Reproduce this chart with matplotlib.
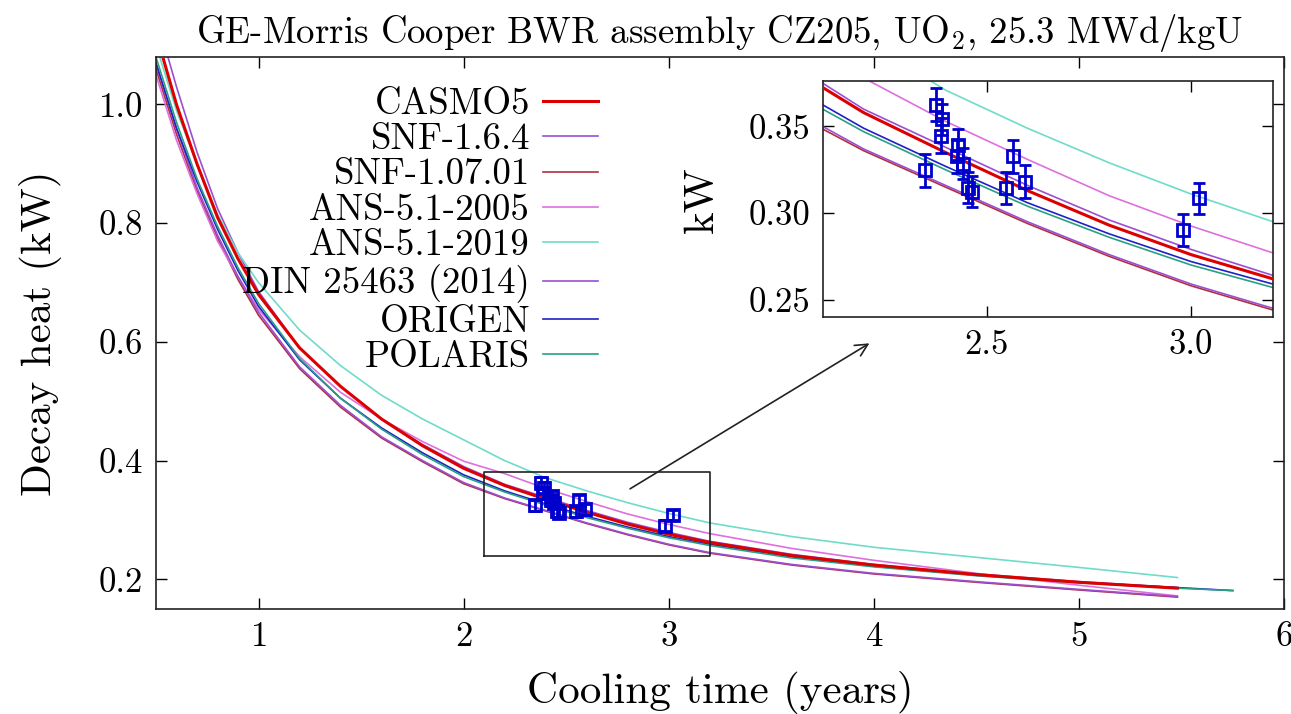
import matplotlib
matplotlib.use("Agg")
import matplotlib.pyplot as plt
import numpy as np

plt.rcParams['font.family'] = ['cmr10', 'DejaVu Serif']
plt.rcParams['mathtext.fontset'] = 'cm'
plt.rcParams['axes.formatter.use_mathtext'] = True

# ---- data ----
t = [0.5, 0.6, 0.7, 0.8, 0.9, 1.0, 1.2, 1.4, 1.6, 1.8, 2.0, 2.2, 2.4, 2.6, 2.8, 3.0, 3.2, 3.6, 4.0, 4.5, 5.0, 5.48]
t_long = t + [5.75]

casmo5 = [1.12, 1.00, 0.90, 0.81, 0.74, 0.68, 0.59, 0.525, 0.47, 0.425, 0.387, 0.358, 0.335, 0.313, 0.293, 0.276, 0.262, 0.240, 0.224, 0.208, 0.195, 0.185]
snf164 = [1.15, 1.03, 0.92, 0.825, 0.75, 0.685, 0.59, 0.525, 0.47, 0.427, 0.390, 0.360, 0.338, 0.316, 0.296, 0.279, 0.264, 0.242, 0.225, 0.209, 0.196, 0.186]
snf10701 = [1.06, 0.95, 0.855, 0.775, 0.705, 0.645, 0.555, 0.490, 0.438, 0.398, 0.361, 0.336, 0.315, 0.294, 0.275, 0.258, 0.2440, 0.224, 0.209, 0.195, 0.182, 0.170]
ans2005 = [1.05, 0.94, 0.85, 0.77, 0.71, 0.655, 0.575, 0.515, 0.470, 0.432, 0.399, 0.378, 0.353, 0.331, 0.310, 0.2925, 0.277, 0.252, 0.232, 0.210, 0.190, 0.172]
ans2019 = [1.10, 0.99, 0.90, 0.815, 0.75, 0.70, 0.62, 0.56, 0.51, 0.47, 0.435, 0.400, 0.371, 0.349, 0.329, 0.311, 0.295, 0.272, 0.254, 0.237, 0.220, 0.203]
din = [1.07, 0.96, 0.86, 0.78, 0.71, 0.650, 0.558, 0.493, 0.440, 0.400, 0.363, 0.337, 0.316, 0.295, 0.276, 0.259, 0.2450, 0.225, 0.210, 0.196, 0.183, 0.171]
origen = [1.07, 0.96, 0.87, 0.79, 0.72, 0.66, 0.57, 0.505, 0.455, 0.413, 0.376, 0.349, 0.327, 0.306, 0.288, 0.272, 0.259, 0.238, 0.222, 0.207, 0.195, 0.186, 0.181]
polaris = [1.08, 0.97, 0.875, 0.795, 0.725, 0.665, 0.572, 0.505, 0.453, 0.410, 0.373, 0.347, 0.325, 0.304, 0.286, 0.270, 0.257, 0.236, 0.221, 0.206, 0.194, 0.185, 0.181]

meas_t = [2.350, 2.377, 2.3925, 2.388, 2.431, 2.427, 2.443, 2.4556, 2.465, 2.5485, 2.565, 2.593, 2.981, 3.020]
meas_q = [0.3247, 0.3625, 0.3542, 0.3448, 0.3395, 0.3328, 0.3284, 0.3146, 0.3123, 0.3146, 0.3328, 0.3180, 0.2902, 0.3085]
meas_err = [0.0094, 0.0096, 0.0090, 0.0100, 0.0090, 0.0095, 0.0090, 0.0090, 0.0090, 0.0094, 0.0095, 0.0095, 0.0092, 0.0090]

labels = ["CASMO5", "SNF-1.6.4", "SNF-1.07.01", "ANS-5.1-2005", "ANS-5.1-2019",
          "DIN 25463 (2014)", "ORIGEN", "POLARIS"]
series = [casmo5, snf164, snf10701, ans2005, ans2019, din, origen, polaris]
colors = ["#dd0000", "#9b4fd0", "#b03040", "#dd70dd", "#6edcc8", "#9b4fd0", "#2020c8", "#2aa083"]
widths = [2.2, 1.2, 1.2, 1.2, 1.2, 1.2, 1.2, 1.2]

fig = plt.figure(figsize=(12.91, 7.14), dpi=100)
ax = fig.add_axes([0.1208, 0.1471, 0.8738, 0.7731])


def draw(a, ms):
    for s, lab, c, w in zip(series, labels, colors, widths):
        xs = t_long if len(s) == len(t_long) else t
        a.plot(xs, s, color=c, lw=w, label=lab, zorder=3 if lab == "CASMO5" else 2)
    a.errorbar(meas_t, meas_q, yerr=meas_err, fmt='s', mfc='none', mec='#0000cc',
               ecolor='#0000cc', ms=ms, mew=2, elinewidth=2,
               capsize=4, capthick=2, zorder=5, label='_nolegend_')


draw(ax, 9)
ax.set_xlim(0.5, 6.0)
ax.set_ylim(0.15, 1.08)
ax.set_xticks([1, 2, 3, 4, 5, 6])
ax.set_yticks([0.2, 0.4, 0.6, 0.8, 1.0])
ax.set_yticklabels(["0.2", "0.4", "0.6", "0.8", "1.0"])
ax.tick_params(direction='in', top=True, right=True, length=8, width=1, labelsize=25, pad=9)
for sp in ax.spines.values():
    sp.set_linewidth(1.2)
    sp.set_color('#222222')
ax.set_xlabel("Cooling time (years)", fontsize=31, labelpad=13)
ax.set_ylabel("Decay heat (kW)", fontsize=31, labelpad=27)
ax.set_title("GE-Morris Cooper BWR assembly CZ205, UO$_2$, 25.3 MWd/kgU", fontsize=26.5, pad=10)

# zoom rectangle and arrow
ax.plot([2.1, 3.2, 3.2, 2.1, 2.1], [0.24, 0.24, 0.38, 0.38, 0.24], color='#222222', lw=1.2, zorder=4)
ax.annotate("", xy=(3.99, 0.60), xytext=(2.8, 0.35),
            arrowprops=dict(arrowstyle='->', color='#222222', lw=1.2, mutation_scale=22))

leg = ax.legend(loc='upper right', bbox_to_anchor=(0.392, 0.945), frameon=False,
                markerfirst=False, fontsize=26.5, handlelength=1.5, handletextpad=0.35,
                labelspacing=0.06, borderpad=0, borderaxespad=0)

# inset
axi = fig.add_axes([0.6373, 0.556, 0.3488, 0.3299])
draw(axi, 8)
axi.set_xlim(2.1, 3.2)
axi.set_ylim(0.24, 0.376)
axi.set_xticks([2.5, 3.0])
axi.set_xticklabels(["2.5", "3.0"])
axi.set_yticks([0.25, 0.30, 0.35])
axi.set_yticklabels(["0.25", "0.30", "0.35"])
axi.tick_params(direction='in', top=True, right=True, length=8, width=1, labelsize=25, pad=9)
for sp in axi.spines.values():
    sp.set_linewidth(1.2)
    sp.set_color('#222222')
axi.set_ylabel("kW", fontsize=31, labelpad=20)

fig.savefig("out.png", dpi=100)
